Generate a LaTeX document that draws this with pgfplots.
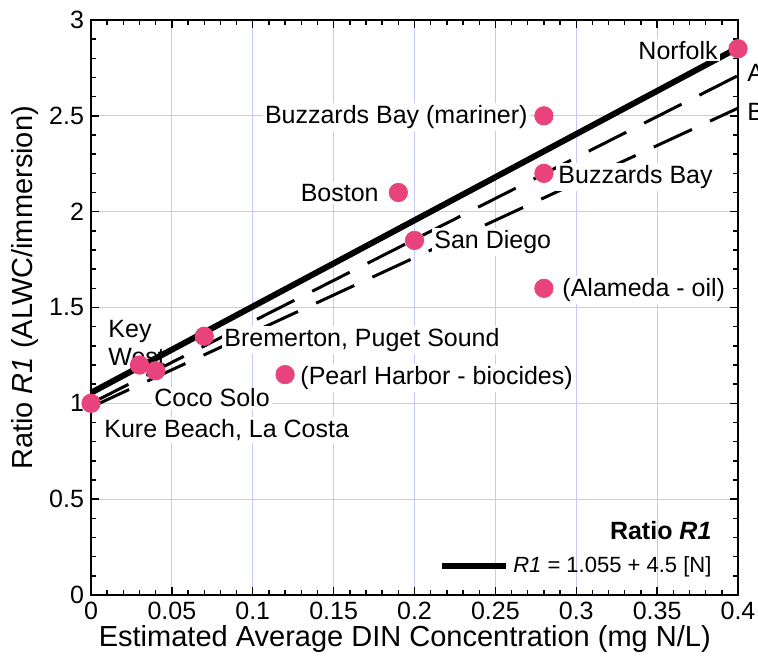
\documentclass[border=0pt]{standalone}
\usepackage{fontspec}
\setmainfont{Liberation Sans}
\usepackage{pgfplots}
\pgfplotsset{compat=1.18}
\usetikzlibrary{calc}
\definecolor{dotpink}{RGB}{233,67,125}
\definecolor{gridblue}{RGB}{200,200,245}

\begin{document}
\begin{tikzpicture}
\begin{axis}[
    width=323.5pt, height=287.5pt,
    scale only axis,
    clip=false,
    xmin=0, xmax=0.4,
    ymin=0, ymax=3,
    xtick={0,0.05,0.1,0.15,0.2,0.25,0.3,0.35,0.4},
    xticklabels={0,0.05,0.1,0.15,0.2,0.25,0.3,0.35,0.4},
    ytick={0,0.5,1,1.5,2,2.5,3},
    yticklabels={0,0.5,1,1.5,2,2.5,3},
    minor x tick num=4,
    minor y tick num=4,
    tick pos=both,
    tick align=inside,
    major tick length=4pt,
    minor tick length=2.5pt,
    every tick/.style={black, line width=0.7pt},
    grid=major,
    major grid style={gridblue, line width=0.5pt},
    axis line style={line width=1.4pt},
    tick label style={font=\fontsize{12.5}{14}\selectfont},
    xlabel={Estimated Average DIN Concentration (mg N/L)},
    ylabel={Ratio \textit{R1} (ALWC/immersion)},
    label style={font=\fontsize{14.5}{17}\selectfont},
    xlabel style={at={(rel axis cs:0.485,0)}, anchor=center, yshift=-22pt},
    ylabel style={at={(rel axis cs:0,0.534)}, anchor=center, yshift=33pt},
    legend style={draw=none, fill=none, at={(rel axis cs:0.975,0.02)}, anchor=south east,
        font=\fontsize{11}{13}\selectfont, row sep=3pt},
    legend cell align=right,
]
% dashed fits A and B
\addplot[black, line width=1.5pt, dash pattern=on 21pt off 10pt, forget plot]
    coordinates {(0,1.0) (0.4,2.71)};
\addplot[black, line width=1.5pt, dash pattern=on 21pt off 10pt, forget plot]
    coordinates {(0,0.98) (0.4,2.54)};

\addlegendimage{empty legend}
\addlegendentry{\fontsize{12.5}{14}\selectfont\textbf{Ratio \textit{R1}}}
\addplot[black, line width=3pt,
    legend image code/.code={\draw[line width=3pt] (0pt,0pt) -- (32pt,0pt);}]
    coordinates {(0,1.055) (0.4,2.855)};
\addlegendentry{\textit{R1} = 1.055 + 4.5 [N]}

% site labels
\begin{scope}[every node/.style={fill=white, inner sep=1pt, font=\fontsize{12.5}{14}\selectfont}]
\node[anchor=east] at (axis cs:0.3889,2.843) {Norfolk};
\node[anchor=east] at (axis cs:0.2714,2.494) {Buzzards Bay (mariner)};
\node[anchor=west] at (axis cs:0.2875,2.181) {Buzzards Bay};
\node[anchor=east] at (axis cs:0.1793,2.097) {Boston};
\node[anchor=west] at (axis cs:0.2108,1.842) {San Diego};
\node[anchor=west] at (axis cs:0.2900,1.591) {(Alameda - oil)};
\node[anchor=west, align=left, fill=none] at (axis cs:0.0093,1.315) {Key\\West};
\node[anchor=west] at (axis cs:0.0810,1.331) {Bremerton, Puget Sound};
\node[anchor=west] at (axis cs:0.1280,1.132) {(Pearl Harbor - biocides)};
\node[anchor=west] at (axis cs:0.0377,1.028) {Coco Solo};
\node[anchor=west] at (axis cs:0.0068,0.861) {Kure Beach, La Costa};
\node[anchor=west, fill=none, overlay] at (axis cs:0.4043,2.723) {A};
\node[anchor=west, fill=none, overlay] at (axis cs:0.4043,2.52) {B};
\end{scope}

\addplot[only marks, mark=*, mark size=4.6pt, color=dotpink, forget plot]
    coordinates {
    (0,1.0) (0.03,1.2) (0.04,1.17) (0.07,1.35) (0.12,1.15)
    (0.19,2.1) (0.2,1.85) (0.28,2.5) (0.28,2.2) (0.28,1.6) (0.4,2.85)
    };

\coordinate (sw) at (rel axis cs:0,0);
\coordinate (ne) at (rel axis cs:1,1);
\end{axis}
\pgfresetboundingbox
\path ($(sw)+(-45.5pt,-31.5pt)$) rectangle ($(ne)+(10pt,10pt)$);
\end{tikzpicture}
\end{document}
